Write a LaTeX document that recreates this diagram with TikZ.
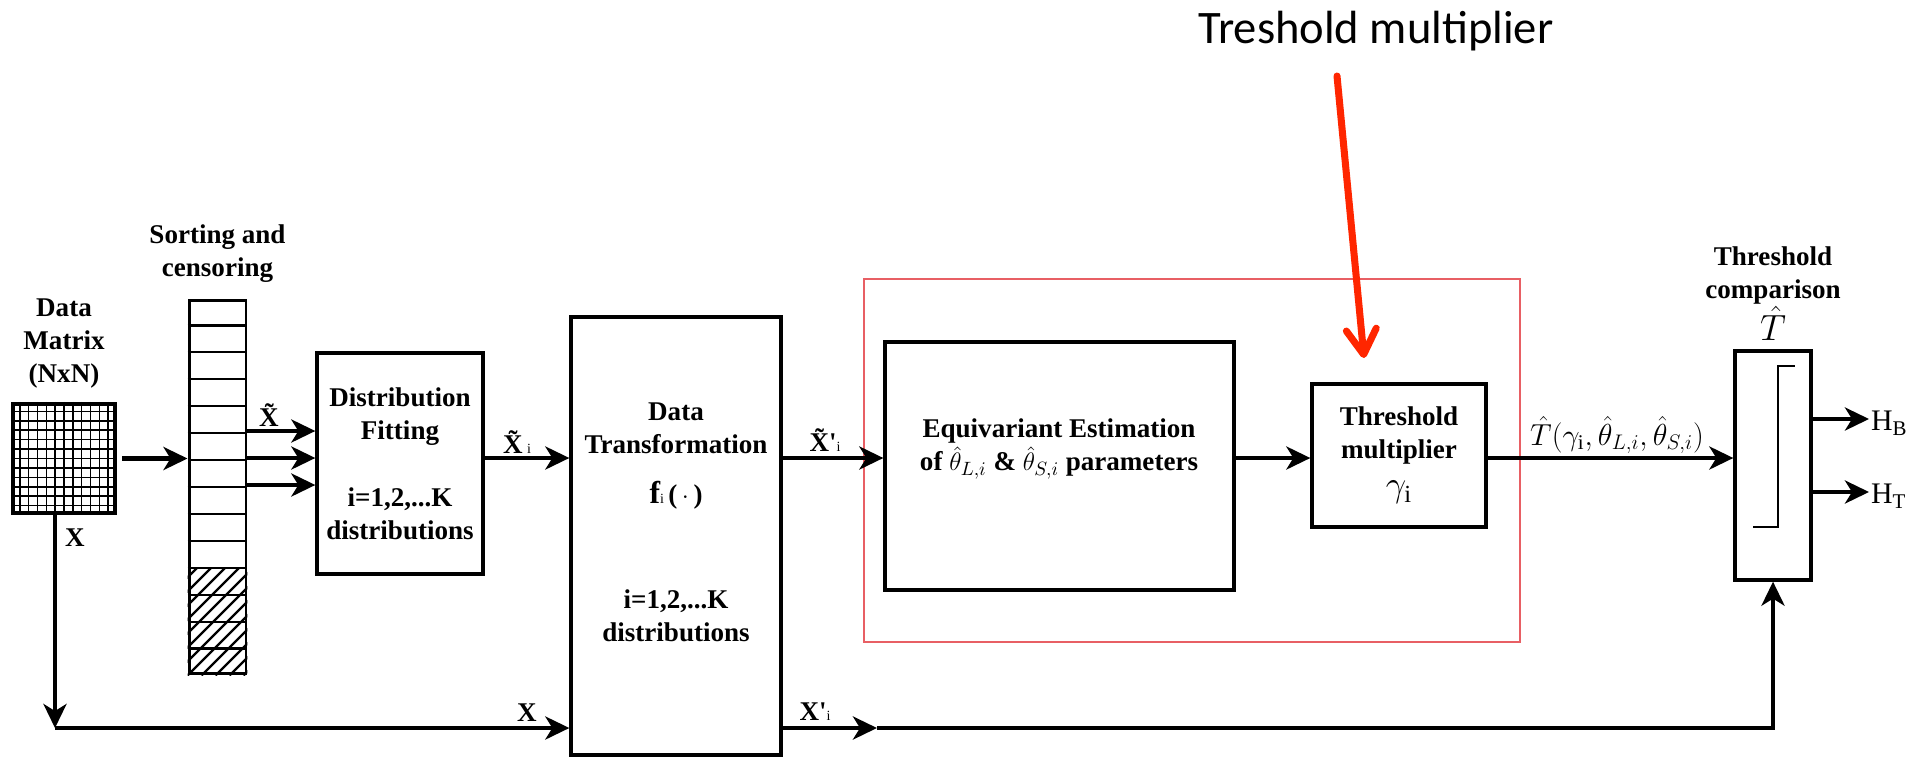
\documentclass[tikz,border=0pt]{standalone}
\usepackage{fontspec}
\setmainfont{Liberation Serif}
\newfontfamily\notefont{Carlito}
\usepackage{tikz}
\usetikzlibrary{
  arrows.meta,
  positioning,
  calc
}
\definecolor{boxred}{RGB}{232,95,100}
\definecolor{notered}{RGB}{255,38,0}

\begin{document}
\begin{tikzpicture}[x=0.02cm, y=-0.02cm,
    every node/.style={font=\fontsize{15.4}{18.8}\selectfont\bfseries},
    block/.style={draw, line width=1.9pt, inner sep=0pt, align=center},
    lbl/.style={align=center},
    flow/.style={line width=2.4pt, -{Stealth[length=0.48cm, width=0.46cm, inset=0.14cm]}},
    cell/.style={line width=1.2pt},
    hatch/.style={line width=1.3pt}]
  \useasboundingbox (0,0) rectangle (1915,758);

  % data matrix
  \node[draw, line width=2.4pt, minimum width=2.04cm, minimum height=2.18cm] (mat) at (64,458.5) {};
  \foreach \k in {1,...,11}{
    \draw[line width=0.9pt] ($(mat.north west)!{\k/12}!(mat.north east)$) -- ($(mat.south west)!{\k/12}!(mat.south east)$);
    \draw[line width=0.9pt] ($(mat.north west)!{\k/12}!(mat.south west)$) -- ($(mat.north east)!{\k/12}!(mat.south east)$);
  }
  \node[lbl, above=0.15cm of mat] (matlbl) {Data\\Matrix\\(NxN)};

  % sorting and censoring column
  \node[draw, line width=1.7pt, minimum width=1.14cm, minimum height=7.48cm] (sortcol) at (217.5,487) {};
  \foreach \k in {1,...,13}
    \draw[cell] ($(sortcol.north west)!{\k/14}!(sortcol.south west)$) -- ($(sortcol.north east)!{\k/14}!(sortcol.south east)$);
  \begin{scope}
    \clip ($(sortcol.north west)!{10/14}!(sortcol.south west)$) rectangle (sortcol.south east);
    \foreach \d in {-8,...,4}
      \draw[hatch] ([xshift=\d*0.28cm]sortcol.south west) -- ++(130,-130);
  \end{scope}
  \node[lbl, above=0.2cm of sortcol] (sortlbl) {Sorting and\\censoring};

  % processing blocks
  \node[block, minimum width=3.32cm, minimum height=4.42cm] (fit) at (400,463.5)
    {Distribution\\Fitting\\[0.68cm]i=1,2,...K\\distributions};
  \node[block, minimum width=4.2cm, minimum height=8.76cm] (trans) at (676,536) {};
  \node[lbl] (transtxt) at (676,522)
    {Data\\Transformation\\[0.34cm]{\fontsize{18}{20}\selectfont f}{\footnotesize\mdseries i}\,(\,$\cdot$\,)\\[1.44cm]i=1,2,...K\\distributions};
  \node[draw=boxred, line width=0.8pt, minimum width=13.12cm, minimum height=7.26cm] (group) at (1192,460.5) {};
  \node[block, minimum width=6.98cm, minimum height=4.96cm] (equiv) at (1059.5,466) {};
  \node[lbl] (equivtxt) at (1059,449)
    {Equivariant Estimation\\of $\hat{\theta}_{L,i}$ \& $\hat{\theta}_{S,i}$ parameters};
  \node[block, minimum width=3.48cm, minimum height=2.86cm] (mult) at (1399,455.5)
    {Threshold\\multiplier\\[0.1cm]{\fontsize{20}{22}\selectfont$\gamma_{\mathrm{i}}$}};
  \node[block, minimum width=1.52cm, minimum height=4.58cm] (comp) at (1773,465.5) {};
  \draw[line width=1.3pt] ($(comp.center)+(-20,61.5)$) -- ++(25,0) -- ++(0,-161) -- ++(17,0);
  \node[lbl, above=0.05cm of comp] (complbl) {Threshold\\comparison\\{\fontsize{20}{22}\selectfont$\hat{T}$}};

  % main signal path
  \coordinate (lane) at (0,458);
  \draw[flow] ([xshift=0.1cm]mat.east) -- (mat.east -| sortcol.west);
  \foreach \y in {431,458,485}
    \draw[flow] (sortcol.east |- 0,\y) -- (fit.west |- 0,\y);
  \node (xs) at (269,415) {\~{X}};
  \draw[flow] (fit.east |- lane) -- (trans.west |- lane);
  \node (xsi) at (517,442) {\~{X}\,{\footnotesize\mdseries i}};
  \draw[flow] (trans.east |- lane) -- (equiv.west |- lane);
  \node (xti) at (825,440) {\~{X}\textquotesingle{\footnotesize\mdseries i}};
  \draw[flow] (equiv.east |- lane) -- (mult.west |- lane);
  \draw[flow] (mult.east |- lane) -- (comp.west |- lane);
  \node[font=\fontsize{17}{20}\selectfont] (tout) at (1617,435)
    {$\hat{T}(\gamma_{\mathrm{i}},\hat{\theta}_{L,i},\hat{\theta}_{S,i})$};

  % decisions
  \node[anchor=west, font=\fontsize{17}{20}\selectfont, inner sep=1pt] (hb) at (1869,423) {H\textsubscript{B}};
  \node[anchor=west, font=\fontsize{17}{20}\selectfont, inner sep=1pt] (ht) at (1869,496) {H\textsubscript{T}};
  \draw[flow] (comp.east |- 0,419) -- (hb.west |- 0,419);
  \draw[flow] (comp.east |- 0,492) -- (ht.west |- 0,492);

  % bypass path
  \coordinate (xdown) at (55,728);
  \coordinate (xmid) at (877,728);
  \draw[flow] (mat.south -| xdown) -- (xdown);
  \draw[flow] (xdown) -- (trans.west |- xdown);
  \node (xa) at (75,538) {X};
  \node (xb) at (527,713) {X};
  \draw[flow] (trans.east |- xdown) -- (xmid);
  \node (xpi) at (815,712) {X\textquotesingle{\footnotesize\mdseries i}};
  \draw[flow] (xmid) -| (comp.south);

  % annotation
  \node[font=\notefont\fontsize{26.5}{30}\selectfont] (note) at (1376,31) {Treshold multiplier};
  \coordinate (notetail) at (1337,76);
  \coordinate (notetip) at (1364,358);
  \draw[notered, line width=4pt, line cap=round, -{Straight Barb[length=0.5cm, width=0.6cm, round]}] (notetail) -- (notetip);
\end{tikzpicture}
\end{document}
